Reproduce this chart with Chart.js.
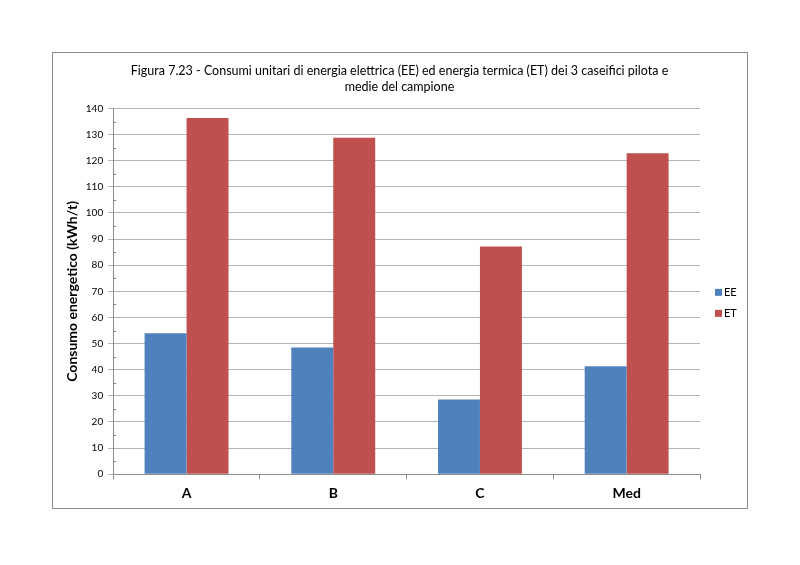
<!DOCTYPE html>
<html>
<head>
<meta charset="utf-8">
<script src="https://cdn.jsdelivr.net/npm/chart.js@4"></script>
<style>
  html, body { margin: 0; padding: 0; background: #fff; }
  #box {
    position: absolute; left: 52px; top: 52px;
    width: 694px; height: 455px;
    border: 1px solid #8c8c8c;
  }
</style>
</head>
<body>
<div id="box"><canvas id="chart"></canvas></div>
<script>
const categories = ['A', 'B', 'C', 'Med'];
const eeValues   = [54.0, 48.5, 28.6, 41.3];
const etValues   = [136.4, 128.8, 87.2, 122.9];
const titleLines = ['Figura 7.23 - Consumi unitari di energia elettrica (EE) ed energia termica (ET) dei 3 caseifici pilota e',
                    'medie del campione'];

// small ticks every 5 units on the y axis, like the Excel minor ticks
const minorTicks = {
    id: 'minorTicks',
    afterDraw(chart) {
        const y = chart.scales.y;
        const ctx = chart.ctx;
        ctx.save();
        ctx.strokeStyle = '#8c8c8c';
        ctx.lineWidth = 1;
        for (let v = 5; v < 140; v += 10) {
            const py = Math.round(y.getPixelForValue(v)) + 0.5;
            ctx.beginPath();
            ctx.moveTo(y.right, py);
            ctx.lineTo(y.right + 3, py);
            ctx.stroke();
        }
        ctx.restore();
    }
};

// Excel style legend to the right of the plot
const sideLegend = {
    id: 'sideLegend',
    afterDraw(chart) {
        const ctx = chart.ctx;
        const area = chart.chartArea;
        const x = area.right + 15;
        let y = (area.top + area.bottom) / 2 + 1;
        ctx.save();
        ctx.font = '11px Lato';
        ctx.textBaseline = 'middle';
        chart.data.datasets.forEach(ds => {
            ctx.fillStyle = ds.backgroundColor;
            ctx.fillRect(x, y - 3.5, 7, 7);
            ctx.fillStyle = '#000';
            ctx.fillText(ds.label, x + 9, y);
            y += 21;
        });
        ctx.restore();
    }
};

new Chart(document.getElementById('chart'), {
    type: 'bar',
    data: {
        labels: categories,
        datasets: [{
            label: 'EE',
            data: eeValues,
            backgroundColor: '#4f81bd'
        }, {
            label: 'ET',
            data: etValues,
            backgroundColor: '#c0504d'
        }]
    },
    options: {
        responsive: true,
        maintainAspectRatio: false,
        animation: false,
        categoryPercentage: 0.572,
        barPercentage: 1.0,
        layout: { padding: { left: 11, right: 12, top: 6, bottom: 0 } },
        plugins: {
            title: {
                display: true,
                text: titleLines,
                color: '#000',
                font: { family: 'Lato', size: 12.5, weight: 'normal', lineHeight: 1.3 },
                padding: { top: 4, bottom: 13 }
            },
            legend: { display: false },
            tooltip: { enabled: false }
        },
        scales: {
            x: {
                grid: { display: true, drawOnChartArea: false, offset: true, tickLength: 5, color: '#8c8c8c' },
                border: { color: '#8c8c8c' },
                ticks: { color: '#000', font: { family: 'Lato', size: 14, weight: 'bold' }, padding: 6 }
            },
            y: {
                min: 0,
                max: 140,
                ticks: { stepSize: 10, color: '#000', font: { family: 'Lato', size: 10 }, padding: 5 },
                grid: { color: '#b4b4b4', tickLength: 5 },
                border: { color: '#8c8c8c' },
                title: {
                    display: true,
                    text: 'Consumo energetico (kWh/t)',
                    color: '#000',
                    font: { family: 'Lato', size: 14, weight: 'bold' },
                    padding: { top: 0, bottom: 0 }
                }
            },
            // empty axis that keeps room for the legend on the right
            legendSpace: {
                type: 'linear',
                position: 'right',
                display: true,
                grid: { display: false },
                border: { display: false },
                ticks: { display: false },
                afterFit(scale) { scale.width = 35; }
            }
        }
    },
    plugins: [minorTicks, sideLegend]
});
</script>
</body>
</html>
